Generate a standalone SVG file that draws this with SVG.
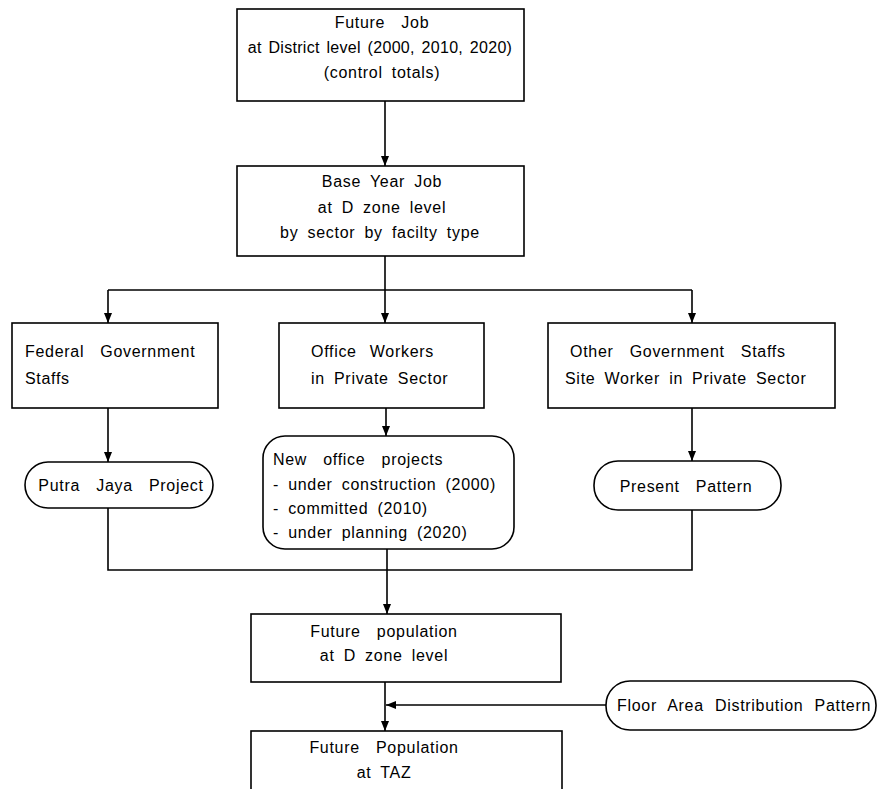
<svg xmlns="http://www.w3.org/2000/svg" width="878" height="789" viewBox="0 0 878 789">
  <style>
    .box { fill: #ffffff; stroke: #000000; stroke-width: 1.6; }
    .wire { fill: none; stroke: #000000; stroke-width: 1.6; }
    text { font-family: "Liberation Sans", Arial, sans-serif; font-size: 16px; fill: #000000; letter-spacing: 0.7px; word-spacing: 4px; }
    .c { text-anchor: middle; }
    .wide { word-spacing: 11px; }
    .tight { letter-spacing: 0.3px; word-spacing: 2px; }
  </style>
  <defs>
    <marker id="arrow" viewBox="0 0 10 10" refX="10" refY="5" markerWidth="10" markerHeight="10" markerUnits="userSpaceOnUse" orient="auto">
      <path d="M0,1 L10,5 L0,9 Z" fill="#000000"/>
    </marker>
  </defs>
  <rect width="878" height="789" fill="#ffffff"/>

  <!-- connectors -->
  <g id="connectors">
    <line class="wire" x1="385" y1="101" x2="385" y2="166" marker-end="url(#arrow)"/>
    <polyline class="wire" points="385,256 385,290"/>
    <line class="wire" x1="108" y1="290" x2="692" y2="290"/>
    <line class="wire" x1="108" y1="290" x2="108" y2="323" marker-end="url(#arrow)"/>
    <line class="wire" x1="385" y1="290" x2="385" y2="323" marker-end="url(#arrow)"/>
    <line class="wire" x1="692" y1="290" x2="692" y2="323" marker-end="url(#arrow)"/>
    <line class="wire" x1="108" y1="408" x2="108" y2="462" marker-end="url(#arrow)"/>
    <line class="wire" x1="386" y1="408" x2="386" y2="436" marker-end="url(#arrow)"/>
    <line class="wire" x1="692" y1="408" x2="692" y2="461" marker-end="url(#arrow)"/>
    <polyline class="wire" points="108,508 108,570 692,570 692,510"/>
    <line class="wire" x1="387" y1="549" x2="387" y2="614" marker-end="url(#arrow)"/>
    <line class="wire" x1="385" y1="682" x2="385" y2="731" marker-end="url(#arrow)"/>
    <line class="wire" x1="606" y1="705" x2="386" y2="705" marker-end="url(#arrow)"/>
  </g>

  <g id="future-job">
    <rect class="box" x="237" y="9" width="287" height="92"/>
    <text class="c wide" x="382" y="28">Future Job</text>
    <text class="c tight" x="380" y="53">at District level (2000, 2010, 2020)</text>
    <text class="c" x="382" y="78">(control totals)</text>
  </g>

  <g id="base-year-job">
    <rect class="box" x="237" y="166" width="287" height="90"/>
    <text class="c" x="382" y="187">Base Year Job</text>
    <text class="c" x="382" y="213">at D zone level</text>
    <text class="c" x="380" y="238">by sector by facilty type</text>
  </g>

  <g id="federal-staffs">
    <rect class="box" x="12" y="323" width="206" height="85"/>
    <text class="wide" x="25" y="357">Federal Government</text>
    <text x="25" y="384">Staffs</text>
  </g>

  <g id="office-workers">
    <rect class="box" x="279" y="323" width="205" height="85"/>
    <text x="311" y="357" style="word-spacing:8px">Office Workers</text>
    <text x="311" y="384">in Private Sector</text>
  </g>

  <g id="other-staffs">
    <rect class="box" x="548" y="323" width="287" height="85"/>
    <text class="wide" x="570" y="357">Other Government Staffs</text>
    <text x="565" y="384">Site Worker in Private Sector</text>
  </g>

  <g id="putra-jaya">
    <rect class="box" x="25" y="462" width="188" height="46" rx="23"/>
    <text class="c wide" x="121" y="491">Putra Jaya Project</text>
  </g>

  <g id="new-office-projects">
    <rect class="box" x="263" y="436" width="251" height="113" rx="22"/>
    <text class="wide" x="273" y="465">New office projects</text>
    <text x="273" y="490">- under construction (2000)</text>
    <text x="273" y="514">- committed (2010)</text>
    <text x="273" y="538">- under planning (2020)</text>
  </g>

  <g id="present-pattern">
    <rect class="box" x="594" y="461" width="187" height="49" rx="24"/>
    <text class="c wide" x="686" y="492">Present Pattern</text>
  </g>

  <g id="future-pop-dzone">
    <rect class="box" x="251" y="614" width="310" height="68"/>
    <text class="c wide" x="384" y="637">Future population</text>
    <text class="c" x="384" y="661">at D zone level</text>
  </g>

  <g id="floor-area">
    <rect class="box" x="606" y="681" width="270" height="49" rx="24"/>
    <text x="617" y="711" style="word-spacing:6px">Floor Area Distribution Pattern</text>
  </g>

  <g id="future-pop-taz">
    <rect class="box" x="251" y="731" width="311" height="70"/>
    <text class="c wide" x="384" y="753">Future Population</text>
    <text class="c" x="384" y="778">at TAZ</text>
  </g>
</svg>
